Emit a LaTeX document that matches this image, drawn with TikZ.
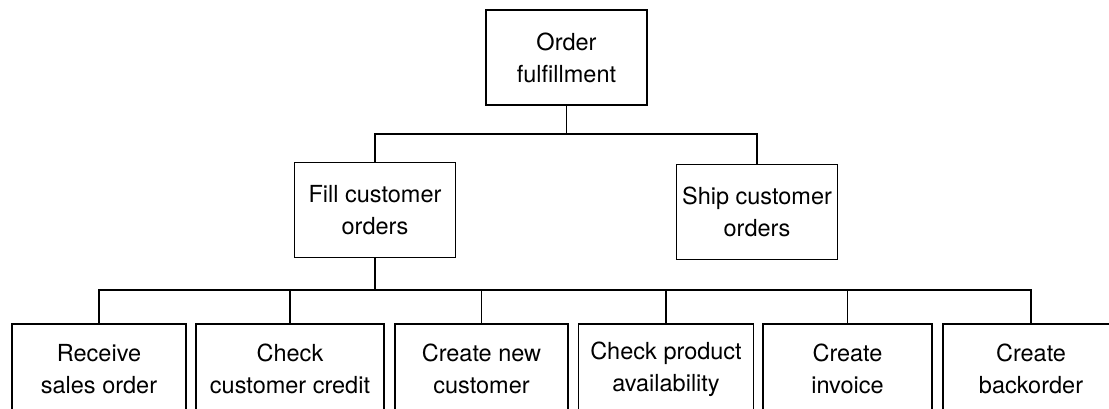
\documentclass[tikz,border=0pt]{standalone}
\usepackage{fontspec}
\setmainfont{TeX Gyre Heros}
\tikzset{
  box/.style={draw,line width=1.5pt,align=center,inner sep=0pt,minimum width=161pt,minimum height=95pt,font=\fontsize{23.5}{32}\selectfont},
  leaf/.style={box,minimum width=174pt,minimum height=90pt},
  link/.style={line width=1.5pt}
}
\begin{document}
\begin{tikzpicture}[x=1pt,y=-1pt]
\useasboundingbox (0,0) rectangle (1109,408);
\clip (0,0) rectangle (1109,408);
\node[box] (root) at (566.5,57.5) {Order\\fulfillment};
\node[box] (fill) at (375,210) {Fill customer\\orders};
\node[box] (ship) at (757,212) {Ship customer\\orders};
\coordinate (busA) at (566.5,134);
\coordinate (busB) at (375,290);
%\node[leaf] at (99,369) {};
\node[leaf] (receive) at (99,369) {Receive\\sales order};
\node[leaf,minimum width=188pt] (credit) at (290,369) {Check\\customer credit};
\node[leaf,minimum width=173pt] (newcust) at (481.5,369) {Create new\\customer};
\node[leaf,minimum width=175pt] (avail) at (666,369) {Check product\\availability};
\node[leaf,minimum width=169pt] (invoice) at (847.5,369) {Create\\invoice};
\node[leaf,minimum width=176pt] (backorder) at (1031,369) {Create\\backorder};
\draw[link] (root.south) -- (busA);
\draw[link] (fill.north) -- (fill.north |- busA) -- (ship.north |- busA) -- (ship.north);
\draw[link] (fill.south) -- (busB);
\draw[link] (receive.north) -- (receive.north |- busB) -- (backorder.north |- busB) -- (backorder.north);
\draw[link] (credit.north) -- (credit.north |- busB);
\draw[link] (newcust.north) -- (newcust.north |- busB);
\draw[link] (avail.north) -- (avail.north |- busB);
\draw[link] (invoice.north) -- (invoice.north |- busB);
\end{tikzpicture}
\end{document}
